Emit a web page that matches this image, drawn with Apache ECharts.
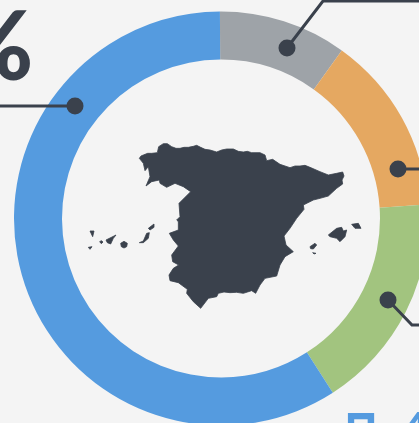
<!DOCTYPE html>
<html><head><meta charset="utf-8">
<style>html,body{margin:0;padding:0;background:#f4f4f4}#c{width:419px;height:423px}</style>
<script src="https://cdn.jsdelivr.net/npm/echarts@6/dist/echarts.min.js"></script></head>
<body><div id="c"></div>
<script>
const categories = ['A','B','C','D'];
const values = [10, 14, 17, 59];
const colors = ['#9ea3a8','#e5a861','#a2c47f','#559bdf'];
const dark = '#3a414c';
const bigText = '%';
const bottomLeft = '口';
const bottomRight = '4';
// silhouette traced in a 3x space of the outline area
const mainland = [[178,85],[183,78],[190,75],[203,70],[215,70],[232,68],[236,50],[250,41],[262,41],[275,50],[288,55],[300,55],[312,52],[325,52],[340,49],[350,46],[362,52],[375,58],[390,60],[410,66],[425,60],[440,57],[460,57],[475,64],[490,66],[502,64],[515,68],[540,68],[555,75],[560,92],[578,88],[600,103],[630,113],[645,108],[660,108],[675,106],[690,112],[720,125],[745,135],[770,130],[788,126],[792,138],[786,150],[788,162],[770,175],[745,198],[720,205],[700,210],[670,225],[672,238],[650,265],[630,295],[612,318],[618,345],[640,365],[615,380],[600,405],[590,438],[555,445],[540,465],[527,490],[515,482],[490,490],[470,487],[450,488],[432,486],[415,490],[410,500],[385,505],[362,535],[340,515],[320,490],[322,478],[295,458],[270,452],[267,435],[280,415],[296,405],[278,395],[275,375],[295,348],[280,330],[268,310],[295,300],[295,275],[290,270],[300,260],[297,220],[332,185],[310,170],[285,160],[260,172],[240,160],[238,150],[215,155],[198,168],[210,140],[205,110],[195,122],[190,100]];
const islands = [
 [[745,315],[770,295],[785,292],[790,303],[800,300],[795,320],[780,335],[770,325],[750,320]],
 [[815,283],[835,280],[843,295],[825,295]],
 [[690,350],[705,340],[710,345],[700,357],[692,356]],
 [[698,368],[708,370],[702,372]],
 [[205,295],[222,282],[222,292],[210,300]],
 [[178,338],[190,333],[200,310],[208,308],[205,325],[190,338]],
 [[122,340],[132,334],[142,340],[140,350],[132,354],[124,350]],
 [[78,330],[108,315],[100,325],[92,342],[82,338]],
 [[59,335],[64,332],[69,336],[64,341]],
 [[30,303],[42,303],[38,320]],
 [[25,352],[36,350],[30,358]]
];
const toPx = p => [80 + p[0]/3, 130 + p[1]/3];
const poly = pts => ({type:'polygon', z:10, silent:true, shape:{points:pts.map(toPx)}, style:{fill:dark, stroke:dark, lineWidth:0.8}});
const line = pts => ({type:'polyline', z:10, silent:true, shape:{points:pts}, style:{stroke:dark, lineWidth:3, fill:null}});
const dot = (x,y) => ({type:'circle', z:11, silent:true, shape:{cx:x, cy:y, r:8.5}, style:{fill:dark}});

const chart = echarts.init(document.getElementById('c'));
chart.setOption({
  animation:false,
  backgroundColor:'#f4f4f4',
  series:[{type:'pie', center:[221,218.5], radius:[159,207], startAngle:90.3, silent:true,
    label:{show:false}, labelLine:{show:false},
    data:categories.map((name,i)=>({name, value:values[i], itemStyle:{color:colors[i]}}))}],
  graphic:[
    poly(mainland), ...islands.map(poly),
    line([[0,106],[75,106]]), dot(75,106),
    line([[287,48],[323,1],[419,1]]), dot(287,48),
    line([[398,169],[419,169]]), dot(398,169),
    line([[388,300],[412,325],[419,325]]), dot(388,300),
    {type:'text', z:10, silent:true, x:-46, y:1, style:{text:bigText, font:'900 96px Lato', fill:dark}},
    {type:'text', z:10, silent:true, x:346, y:411, style:{text:bottomLeft, font:'bold 30px "Noto Sans CJK SC"', fill:colors[3], stroke:colors[3], lineWidth:2.5}},
    {type:'text', z:10, silent:true, x:403, y:408, style:{text:bottomRight, font:'900 42px Lato', fill:colors[3]}}
  ]
});
</script></body></html>
